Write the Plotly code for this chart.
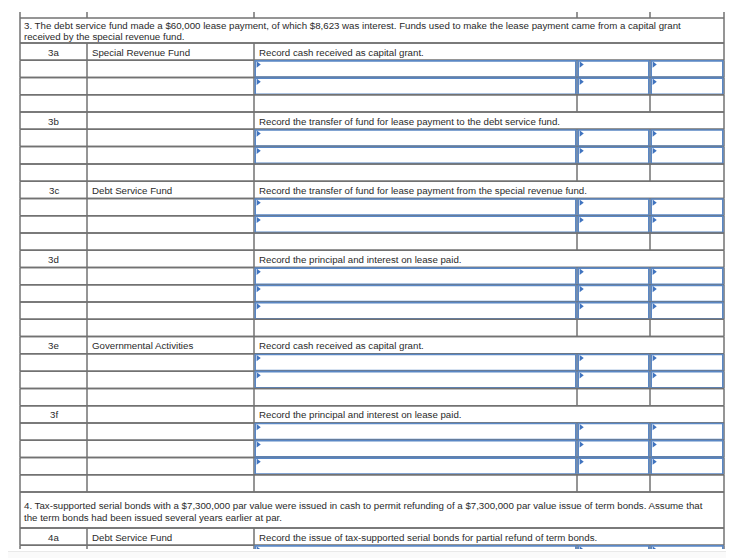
import plotly.graph_objects as go

# ---------------- content ----------------
p3_title = [
    "3. The debt service fund made a $60,000 lease payment, of which $8,623 was interest. Funds used to make the lease payment came from a capital grant",
    "received by the special revenue fund.",
]
p3_refs = ["3a", "3b", "3c", "3d", "3e", "3f"]
p3_funds = ["Special Revenue Fund", "", "Debt Service Fund", "", "Governmental Activities", ""]
p3_descs = [
    "Record cash received as capital grant.",
    "Record the transfer of fund for lease payment to the debt service fund.",
    "Record the transfer of fund for lease payment from the special revenue fund.",
    "Record the principal and interest on lease paid.",
    "Record cash received as capital grant.",
    "Record the principal and interest on lease paid.",
]
p3_entry_lines = [2, 2, 2, 3, 2, 3]

p4_title = [
    "4. Tax-supported serial bonds with a $7,300,000 par value were issued in cash to permit refunding of a $7,300,000 par value issue of term bonds. Assume that",
    "the term bonds had been issued several years earlier at par.",
]
p4_refs = ["4a"]
p4_funds = ["Debt Service Fund"]
p4_descs = ["Record the issue of tax-supported serial bonds for partial refund of term bonds."]
p4_entry_lines = [2]

# ---------------- layout constants ----------------
W, H = 734, 558
PAGE_MARGIN = 8          # default body margin of the html page
COLS = [20, 87, 254, 577, 650, 724]
ROW_H = 17.27
STUB_TOP = 12
TOP = 18
TITLE_H = [25, 36]
TITLE_FIRST = [7.5, 13]
TITLE_GAP = [11, 12]
CUT_Y = 549
GRAY = "#727272"
BLUE = "#5a87c4"
TRI = "#3f73bf"
TXT = "#2a2a2a"
FONT = "Liberation Sans, Arial, sans-serif"
FS = 9.7

problems = [
    (p3_title, p3_refs, p3_funds, p3_descs, p3_entry_lines),
    (p4_title, p4_refs, p4_funds, p4_descs, p4_entry_lines),
]

# build row list
rows = []  # (kind, top, bottom, payload)
y = TOP
for pi, (title, refs, funds, descs, nlines) in enumerate(problems):
    rows.append(("title", y, y + TITLE_H[pi], (title, pi)))
    y += TITLE_H[pi]
    for r, f, d, n in zip(refs, funds, descs, nlines):
        rows.append(("header", y, y + ROW_H, (r, f, d)))
        y += ROW_H
        for _ in range(n):
            rows.append(("input", y, y + ROW_H, None))
            y += ROW_H
        rows.append(("blank", y, y + ROW_H, None))
        y += ROW_H

shapes = []
annotations = []
tri_x, tri_y = [], []


def gline(x0, y0, x1, y1, color=GRAY, width=1.5):
    shapes.append(dict(type="line", x0=x0, y0=y0, x1=x1, y1=y1,
                       line=dict(color=color, width=width), layer="below"))


def text(x, y, s, anchor="left"):
    annotations.append(dict(x=x, y=y, text=s, showarrow=False, xanchor=anchor,
                            yanchor="middle", font=dict(family=FONT, size=FS, color=TXT)))


# stub of previous row at the top
for c in COLS:
    gline(c, STUB_TOP, c, TOP)

for kind, top, bot, payload in rows:
    if top >= H:
        break
    gline(COLS[0], top, COLS[-1], top)
    gline(COLS[0], bot, COLS[-1], bot)
    if kind == "title":
        vcols = [COLS[0], COLS[-1]]
        lines, pi = payload
        for i, ln in enumerate(lines):
            text(COLS[0] + 2, top + TITLE_FIRST[pi] + i * TITLE_GAP[pi], ln)
    elif kind == "header":
        vcols = [COLS[0], COLS[1], COLS[2], COLS[-1]]
        r, f, d = payload
        cy = (top + bot) / 2 + 0.5
        text((COLS[0] + COLS[1]) / 2, cy, r, anchor="center")
        if f:
            text(COLS[1] + 3, cy, f)
        text(COLS[2] + 3, cy, d)
    else:
        vcols = COLS
    for c in vcols:
        gline(c, top, c, bot)
    if kind == "input":
        for ci in (2, 3, 4):
            x0, x1 = COLS[ci], COLS[ci + 1]
            shapes.append(dict(type="rect", x0=x0 + 1.2, x1=x1 - 1.2, y0=top + 0.6, y1=bot - 0.6,
                               line=dict(color=BLUE, width=1.6), fillcolor="rgba(0,0,0,0)",
                               layer="below"))
            tri_x.append(x0 + 4)
            tri_y.append(top + 4.2)

# cut-off of the page bottom
shapes.append(dict(type="rect", x0=0, x1=W, y0=CUT_Y, y1=H, line=dict(width=0),
                   fillcolor="white", layer="above"))
shapes.append(dict(type="rect", x0=0, x1=W, y0=CUT_Y + 2.5, y1=H, line=dict(width=0),
                   fillcolor="#fafafa", layer="above"))
shapes.append(dict(type="line", x0=0, x1=W, y0=CUT_Y + 2.5, y1=CUT_Y + 2.5,
                   line=dict(color="#e9e9e9", width=1), layer="above"))

fig = go.Figure()
fig.add_trace(go.Scatter(x=tri_x, y=tri_y, mode="markers", hoverinfo="skip",
                         marker=dict(symbol="triangle-right", size=5.5, color=TRI,
                                     line=dict(width=0))))
fig.update_layout(
    width=W - PAGE_MARGIN, height=H - PAGE_MARGIN, margin=dict(l=0, r=0, t=0, b=0),
    paper_bgcolor="white", plot_bgcolor="white", showlegend=False,
    xaxis=dict(range=[PAGE_MARGIN, W], visible=False, fixedrange=True),
    yaxis=dict(range=[H, PAGE_MARGIN], visible=False, fixedrange=True),
    shapes=shapes, annotations=annotations,
)
fig.write_html("out.html")
